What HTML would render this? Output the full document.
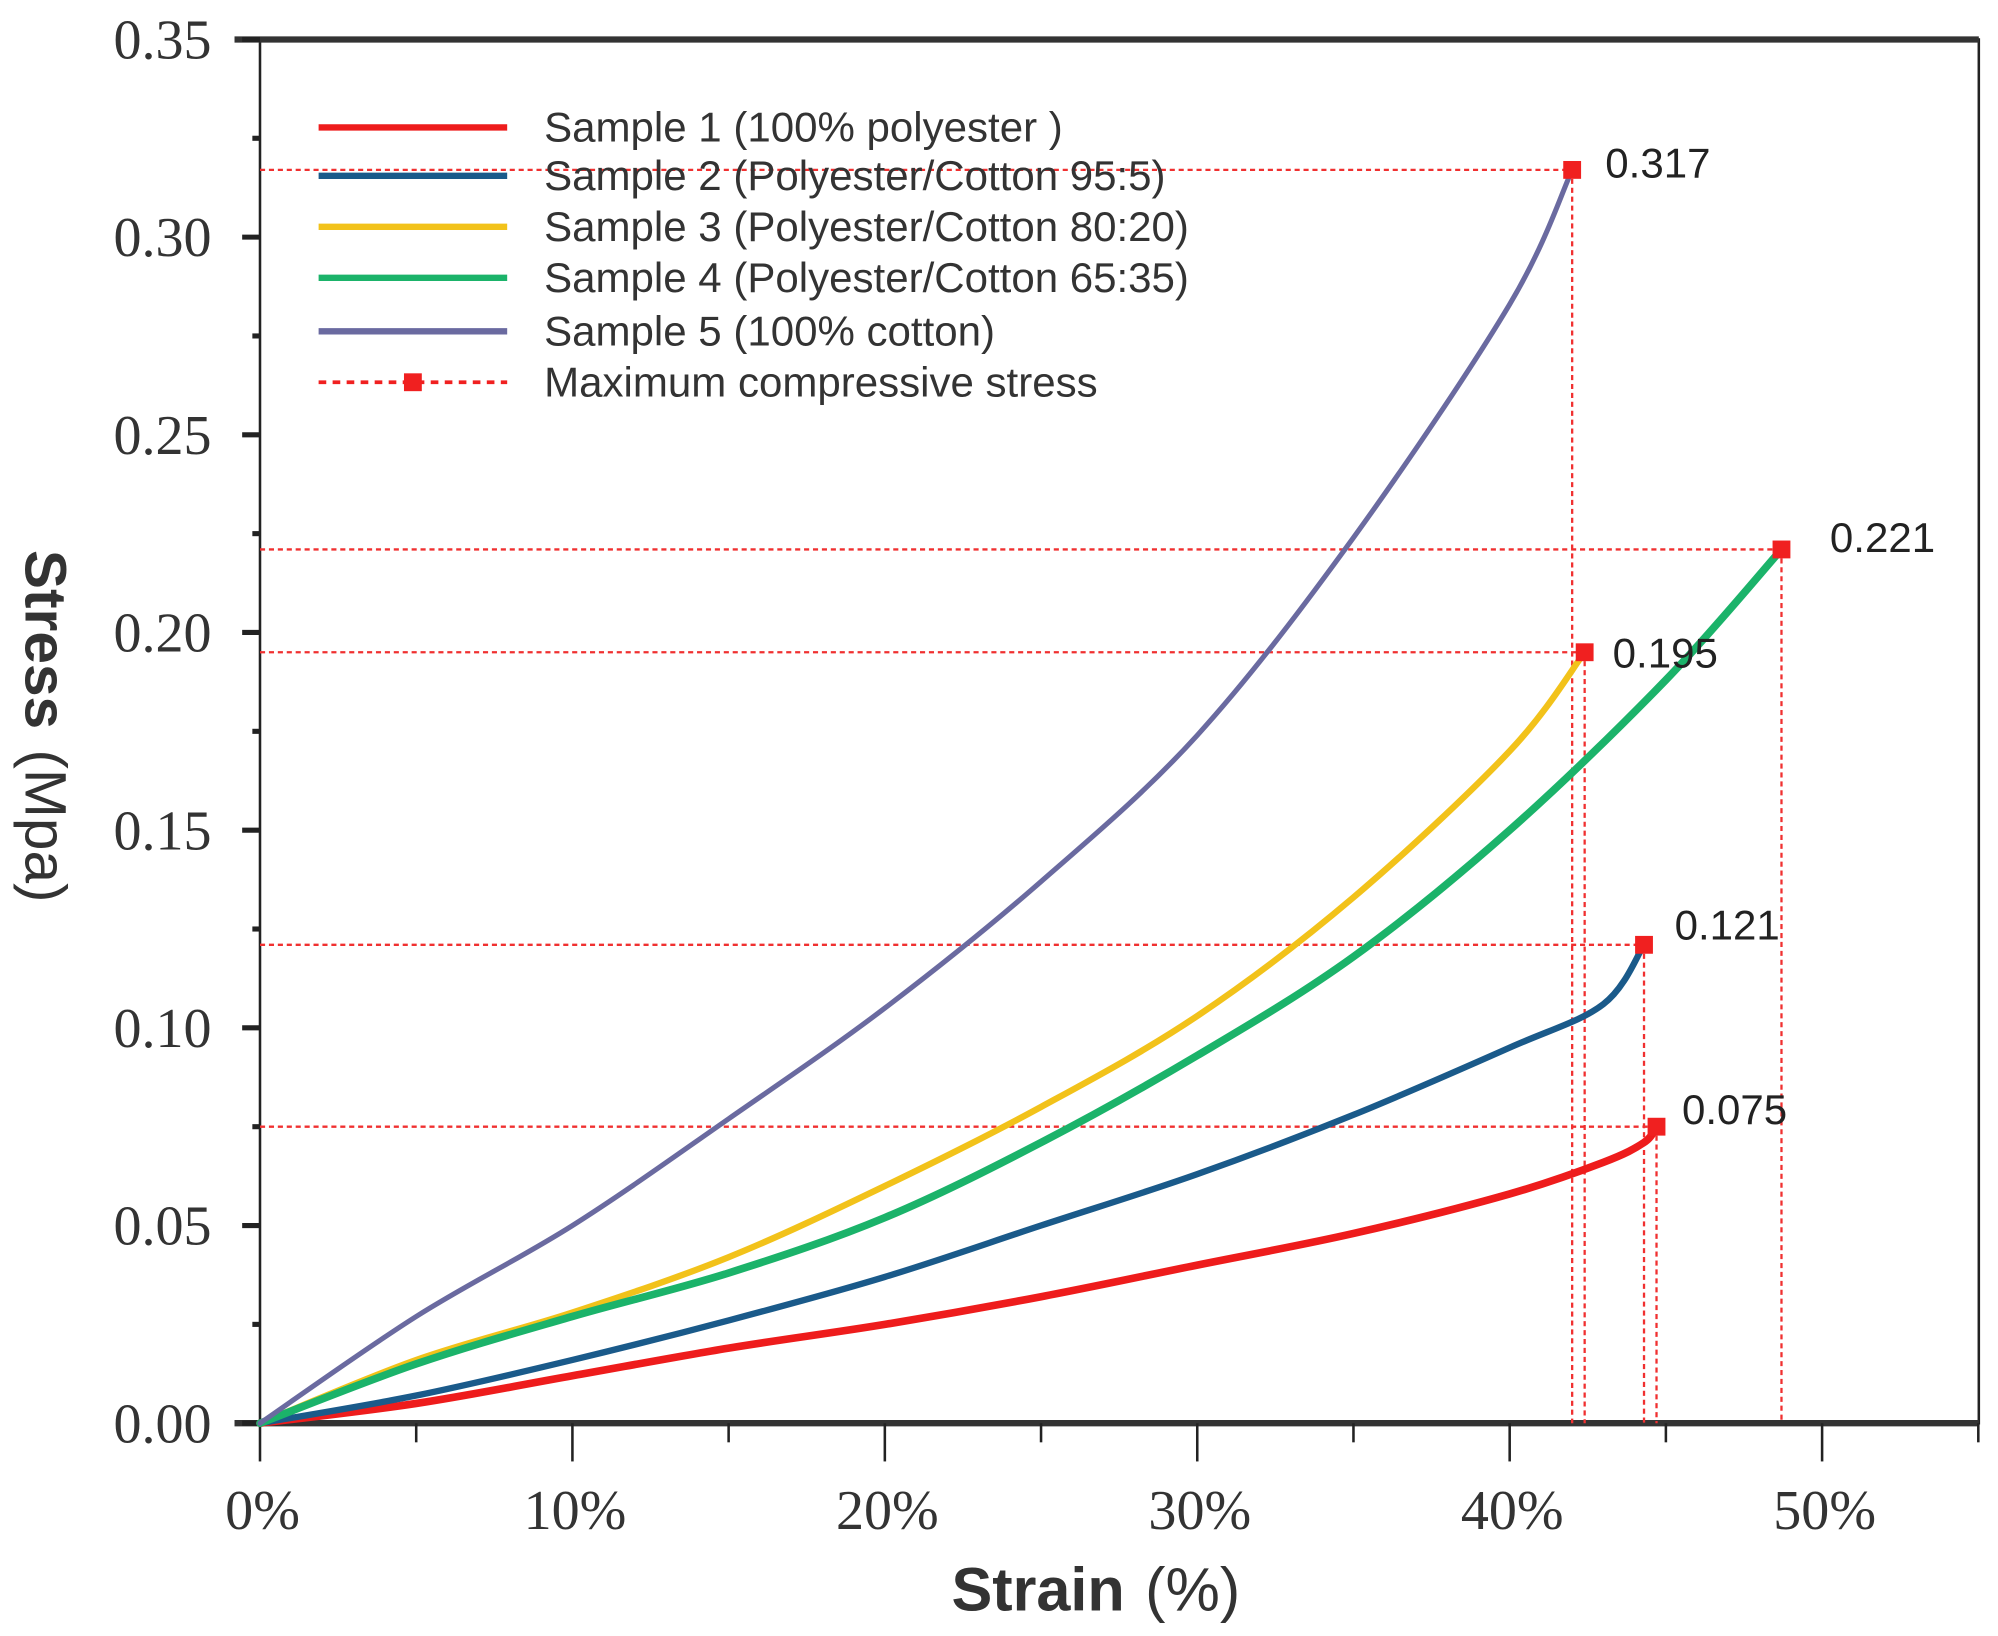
<!DOCTYPE html>
<html><head><meta charset="utf-8"><style>
html,body{margin:0;padding:0;background:#fff}
svg{display:block}
.tk{font-family:"Liberation Serif",serif;font-size:44px;fill:#333}
.lg{font-family:"Liberation Sans",sans-serif;font-size:33px;fill:#333}
.vl{font-family:"Liberation Sans",sans-serif;font-size:33px;fill:#222}
</style></head><body>
<svg id="chart" width="1998" height="1636" viewBox="0 0 1568 1284" xmlns="http://www.w3.org/2000/svg">
<g id="plot"></g>
</svg>
<script>
const xTicks=[0,10,20,30,40,50];
const xTickLabels=["0%","10%","20%","30%","40%","50%"];
const yTicks=[0,0.05,0.10,0.15,0.20,0.25,0.30,0.35];
const yTickLabels=["0.00","0.05","0.10","0.15","0.20","0.25","0.30","0.35"];
const seriesNames=["Sample 1 (100% polyester )","Sample 2 (Polyester/Cotton 95:5)","Sample 3 (Polyester/Cotton 80:20)","Sample 4 (Polyester/Cotton 65:35)","Sample 5 (100% cotton)"];
const seriesColors=["#ee1c1c","#1a5a8a","#f2c21a","#1bb36a","#6a6aa0"];
const s1x=[0,5,10,15,20,25,30,35,40,43,44.3,44.7];
const s1y=[0,0.005,0.012,0.019,0.025,0.032,0.040,0.048,0.058,0.066,0.071,0.075];
const s2x=[0,5,10,15,20,25,30,35,40,43,44.3];
const s2y=[0,0.007,0.016,0.026,0.037,0.050,0.063,0.078,0.095,0.106,0.121];
const s3x=[0,5,10,15,20,25,30,35,40,42.4];
const s3y=[0,0.016,0.028,0.042,0.060,0.080,0.103,0.133,0.170,0.195];
const s4x=[0,5,10,15,20,25,30,35,40,45,48.7];
const s4y=[0,0.015,0.027,0.038,0.052,0.071,0.093,0.118,0.150,0.188,0.221];
const s5x=[0,5,10,15,20,25,30,35,40,42];
const s5y=[0,0.027,0.050,0.077,0.105,0.137,0.174,0.224,0.283,0.317];
const maxX=[44.7,44.3,42.4,48.7,42];
const maxY=[0.075,0.121,0.195,0.221,0.317];
const maxLabels=["0.075","0.121","0.195","0.221","0.317"];

const L=204,R=1553,T=31,B=1117;
const xs=v=>L+v*24.52;
const ys=v=>B-v*3103;
const NS="http://www.w3.org/2000/svg";
const g=document.getElementById('plot');
function mk(tag,attrs,parent){const e=document.createElementNS(NS,tag);for(const k in attrs)e.setAttribute(k,attrs[k]);(parent||g).appendChild(e);return e;}

let fr=mk('rect',{x:L,y:T,width:R-L,height:B-T,fill:'none',stroke:'#222','stroke-width':2});


let tb=mk('line',{x1:L-20,y1:T,x2:R,y2:T,stroke:'#333','stroke-width':5});


let bb=mk('line',{x1:L-20,y1:B,x2:R,y2:B,stroke:'#333','stroke-width':5});



xTicks.forEach((v,i)=>{
  const t=mk('line',{x1:xs(v),y1:B,x2:xs(v),y2:B+30,stroke:'#222','stroke-width':2});
  
  
  const m=mk('line',{x1:xs(v+5),y1:B,x2:xs(v+5),y2:B+15,stroke:'#222','stroke-width':2});
  
  
  const tx=mk('text',{x:xs(v)+2,y:1200,'text-anchor':'middle',class:'tk'});
  tx.textContent=xTickLabels[i];
  
  
});
yTicks.forEach((v,i)=>{
  const t=mk('line',{x1:L-14,y1:ys(v),x2:L,y2:ys(v),stroke:'#222','stroke-width':4});
  
  
  if(i<yTicks.length-1){
    const m=mk('line',{x1:L-6,y1:ys(v+0.025),x2:L,y2:ys(v+0.025),stroke:'#222','stroke-width':4});
    
    
  }
  const tx=mk('text',{x:L-38,y:ys(v)+15,'text-anchor':'end',class:'tk'});
  tx.textContent=yTickLabels[i];
  
  
});
const xt=mk('text',{x:860,y:1264,'text-anchor':'middle','font-family':'"Liberation Sans",sans-serif','font-size':48,fill:'#333'});
xt.innerHTML='<tspan font-weight="bold">Strain</tspan><tspan dx="16">(%)</tspan>';


const yt=mk('text',{transform:'translate(20,570) rotate(90)','text-anchor':'middle','font-family':'"Liberation Sans",sans-serif','font-size':46,fill:'#333'});
yt.innerHTML='<tspan font-weight="bold">Stress</tspan><tspan dx="16">(Mpa)</tspan>';



maxX.forEach((v,i)=>{
  const h=mk('line',{x1:L,y1:ys(maxY[i]),x2:xs(v),y2:ys(maxY[i]),stroke:'#f03030','stroke-width':1.8,'stroke-dasharray':'4 3'});
  
  
  const vv=mk('line',{x1:xs(v),y1:ys(maxY[i]),x2:xs(v),y2:B,stroke:'#f03030','stroke-width':1.8,'stroke-dasharray':'4 3'});
  
  
});

function pathFrom(xa,ya){
  const p=xa.map((x,i)=>[xs(x),ys(ya[i])]);
  let d='M'+p[0][0]+','+p[0][1];
  for(let i=0;i<p.length-1;i++){
    const p0=p[i-1]||p[i],p1=p[i],p2=p[i+1],p3=p[i+2]||p2;
    const c1=[p1[0]+(p2[0]-p0[0])/6,p1[1]+(p2[1]-p0[1])/6];
    const c2=[p2[0]-(p3[0]-p1[0])/6,p2[1]-(p3[1]-p1[1])/6];
    d+=' C'+c1+' '+c2+' '+p2;
  }
  return d;
}
const allX=[s1x,s2x,s3x,s4x,s5x],allY=[s1y,s2y,s3y,s4y,s5y];
const widths=[6,5,5,6,4];
allX.forEach((xa,i)=>{
  const pth=mk('path',{d:pathFrom(xa,allY[i]),fill:'none',stroke:seriesColors[i],'stroke-width':widths[i],'stroke-linecap':'round'});
  
  
});

const lblDx=[20,24,22,38,26],lblDy=[-2,-4,12,2,6];
maxX.forEach((v,i)=>{
  const r=mk('rect',{x:xs(v)-7,y:ys(maxY[i])-7,width:14,height:14,fill:'#f02020'});
  
  
  const t=mk('text',{x:xs(v)+lblDx[i],y:ys(maxY[i])+lblDy[i],class:'vl'});
  t.textContent=maxLabels[i];
  
  
});

const lgY=[100,138,178,218,260];
const leg=mk('g',{});


seriesNames.forEach((n,i)=>{
  const l=mk('line',{x1:250,y1:lgY[i],x2:398,y2:lgY[i],stroke:seriesColors[i],'stroke-width':5},leg);
  
  
  const t=mk('text',{x:427,y:lgY[i]+11,class:'lg'},leg);
  t.textContent=n;
  
  
});
const ml=mk('line',{x1:250,y1:300,x2:398,y2:300,stroke:'#f02020','stroke-width':3,'stroke-dasharray':'6 5'},leg);


const mr=mk('rect',{x:317,y:293,width:14,height:14,fill:'#f02020'},leg);


const mt=mk('text',{x:427,y:311,class:'lg'},leg);
mt.textContent='Maximum compressive stress';


</script>
</body></html>
